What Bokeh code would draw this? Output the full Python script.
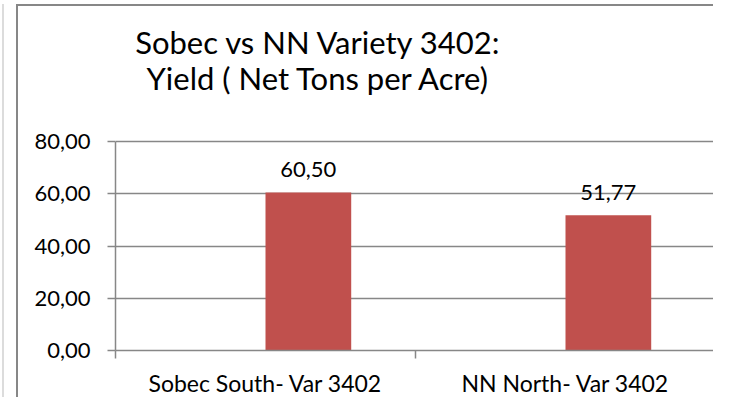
from bokeh.plotting import figure
from bokeh.models import (FactorRange, Range1d, LinearAxis, FixedTicker, Label,
                          ColumnDataSource, InlineStyleSheet)
from bokeh.transform import dodge
from bokeh.core.properties import value
from bokeh.embed import file_html
from bokeh.resources import INLINE

categories = ["Sobec South- Var 3402", "NN North- Var 3402"]
yield_values = [60.50, 51.77]
value_labels = ["60,50", "51,77"]
y_ticks = [0, 20, 40, 60, 80]
y_tick_labels = ["0,00", "20,00", "40,00", "60,00", "80,00"]
title_lines = ["Sobec vs NN Variety 3402:", "Yield ( Net Tons per Acre)"]

FONT = "Lato"
GRAY = "#878787"
BAR_COLOR = "#c0504d"
BAR_W = 1 / 3.5            # Excel clustered bar, gap width 150 %, 2 series

# geometry (pixels)
W, H = 697, 393
FRAME_LEFT, FRAME_BOTTOM_BORDER = 97, 46
PX_PER_UNIT = 2.635
frame_h = H - FRAME_BOTTOM_BORDER
y_top = frame_h / PX_PER_UNIT   # the plot frame reaches the top of the canvas; title lives inside it

p = figure(x_range=FactorRange(factors=categories), y_range=Range1d(0, y_top),
           width=W, height=H, output_backend="svg", toolbar_location=None,
           x_axis_type=None, title=None,
           min_border_left=FRAME_LEFT, min_border_right=0, min_border_top=0,
           min_border_bottom=FRAME_BOTTOM_BORDER)
p.margin = (4, 0, 0, 16)
p.styles = {
    "border-left": f"2px solid {GRAY}",
    "border-top": f"2px solid {GRAY}",
    # faint outer border on the far left, and the chart border continuing to the right
    "box-shadow": f"-12px 0 0 0 white, -14px 0 0 0 #dcdcdc, 216.5px -196.5px 0 -196.5px {GRAY}",
    "overflow": "hidden",
}
p.stylesheets = [InlineStyleSheet(css="""
:host { scrollbar-width: none; overflow: hidden; }
* { scrollbar-width: none; }
::-webkit-scrollbar { display: none; width: 0; height: 0; }
.bk-Toolbar, .bk-toolbar, .bk-logo, .bk-ToolbarPanel { display: none !important; }
""")]
p.outline_line_color = None
p.background_fill_color = "white"
p.border_fill_color = "white"

# y axis
p.yaxis.ticker = FixedTicker(ticks=y_ticks, minor_ticks=[])
p.yaxis.bounds = (y_ticks[0], y_ticks[-1])
p.yaxis.major_label_overrides = dict(zip(y_ticks, y_tick_labels))
p.yaxis.major_tick_out = 8
p.yaxis.major_tick_in = 0
p.yaxis.minor_tick_out = 0
p.yaxis.minor_tick_in = 0
p.yaxis.axis_line_color = GRAY
p.yaxis.axis_line_width = 1.5
p.yaxis.major_tick_line_color = GRAY
p.yaxis.major_tick_line_width = 1.5
p.yaxis.major_label_standoff = 17
p.yaxis.major_label_text_font = FONT
p.yaxis.major_label_text_font_size = "22px"
p.yaxis.major_label_text_color = "black"

p.ygrid.ticker = FixedTicker(ticks=y_ticks)
p.ygrid.grid_line_color = GRAY
p.ygrid.grid_line_width = 1.5

# x axis: labels at category centres, ticks at category boundaries
xaxis = LinearAxis(
    ticker=FixedTicker(ticks=[i + 0.5 for i in range(len(categories))],
                       minor_ticks=list(range(len(categories) + 1))),
    major_label_overrides={i + 0.5: c for i, c in enumerate(categories)},
    major_tick_out=0, major_tick_in=0,
    minor_tick_out=8, minor_tick_in=0,
    minor_tick_line_color=GRAY, minor_tick_line_width=1.5,
    axis_line_color=GRAY, axis_line_width=1.5,
    major_label_standoff=10,
    major_label_text_font=FONT, major_label_text_font_size="23px",
    major_label_text_color="black",
)
p.add_layout(xaxis, "below")

source = ColumnDataSource(dict(cat=categories, val=yield_values, lab=value_labels))
p.vbar(x=dodge("cat", BAR_W / 2, range=p.x_range), top="val", width=BAR_W,
       source=source, fill_color=BAR_COLOR, line_color=None)
p.text(x=dodge("cat", BAR_W / 2, range=p.x_range), y="val", text="lab", source=source,
       text_align="center", text_baseline="alphabetic", y_offset=-23,
       text_font=value(FONT), text_font_size="22px", text_color="black")

# two-line chart title (positions given in canvas pixels from the top)
title_x = 0.677
for line, baseline_px in zip(title_lines, [35.5, 72.5]):
    p.add_layout(Label(x=title_x, y=(frame_h - baseline_px) / PX_PER_UNIT, text=line,
                       text_align="center", text_baseline="alphabetic",
                       text_font=FONT, text_font_size="31px", text_color="black"))

open("out.html", "w").write(file_html(p, INLINE))
